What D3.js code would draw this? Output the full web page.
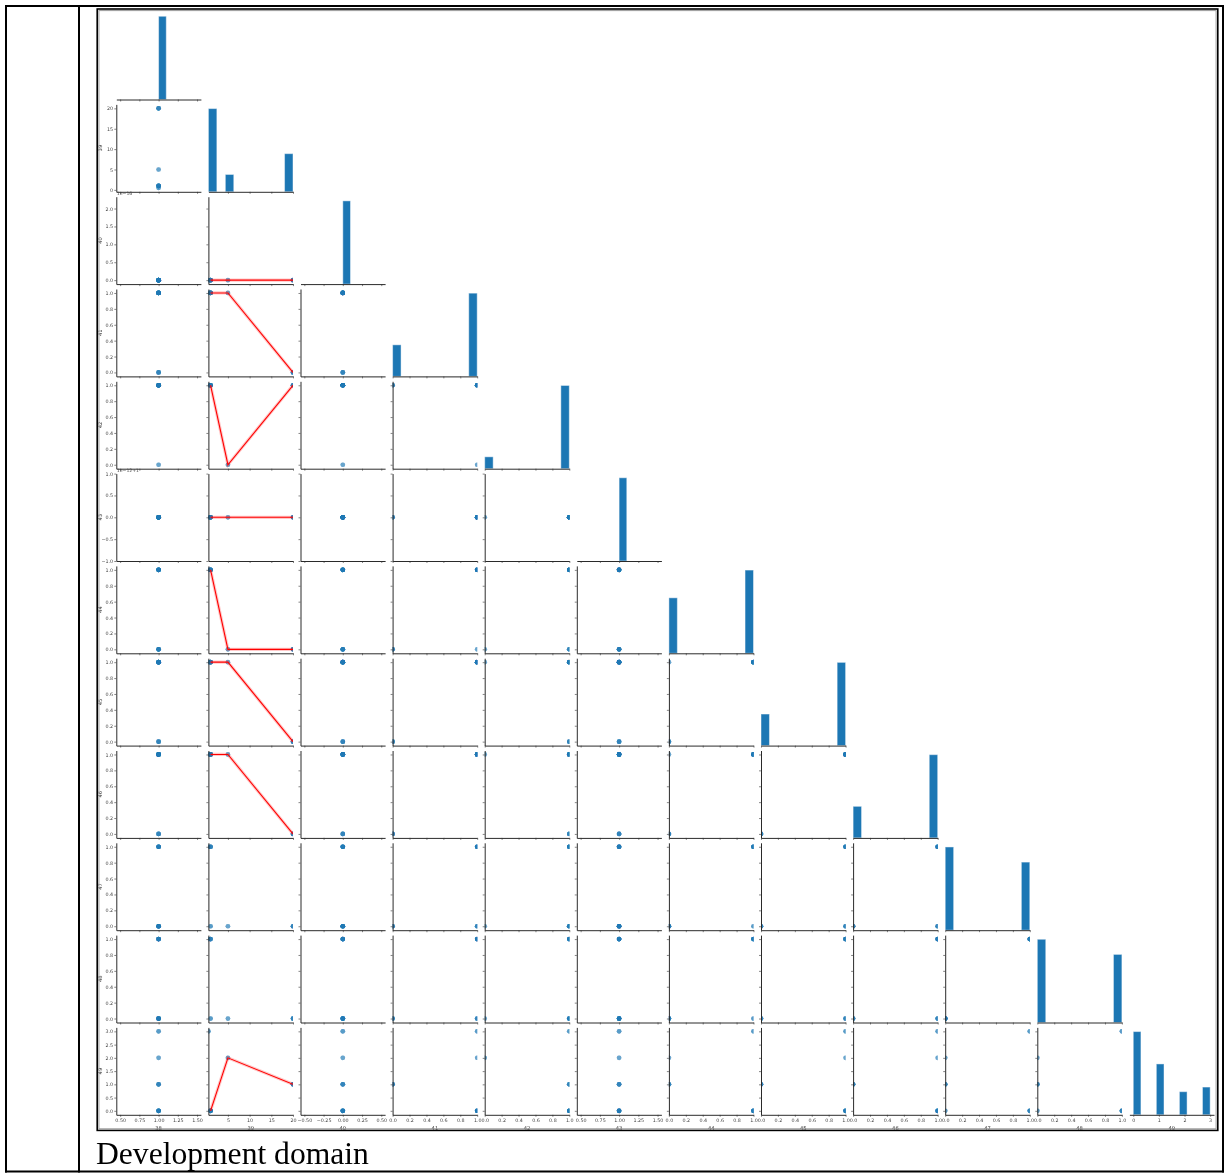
<!DOCTYPE html>
<html>
<head>
<meta charset="utf-8">
<script src="https://cdn.jsdelivr.net/npm/d3@7"></script>
<style>
  body { margin: 0; background: #fff; }
  svg { display: block; }
</style>
</head>
<body>
<svg id="page" width="1225" height="1173"></svg>
<script>
// Pair plot of development-domain items 38–49 (40 observations).
const variables = ["38", "39", "40", "41", "42", "43", "44", "45", "46", "47", "48", "49"];

// The observations fall into five groups of identical rows.
const groupSizes = [6, 12, 6, 5, 11];
const values38 = [1, 1, 1, 1, 1];
const values39 = [0.5, 1, 1, 5, 20];
const values40 = [0, 0, 0, 0, 0];
const values41 = [1, 1, 1, 1, 0];
const values42 = [1, 1, 1, 0, 1];
const values43 = [1, 1, 1, 1, 1];
const values44 = [1, 1, 1, 0, 0];
const values45 = [1, 1, 1, 1, 0];
const values46 = [1, 1, 1, 1, 0];
const values47 = [1, 1, 0, 0, 0];
const values48 = [1, 1, 0, 0, 0];
const values49 = [3, 0, 0, 2, 1];
const columns = [values38, values39, values40, values41, values42, values43,
                 values44, values45, values46, values47, values48, values49];

// Axis limits (x in data units, y in displayed units after offset/scale)
const xLimits = [[0.45, 1.55], [0.5, 20], [-0.55, 0.55], [0, 1], [0, 1], [0.45, 1.55],
                 [0, 1], [0, 1], [0, 1], [0, 1], [0, 1], [-0.15, 3.15]];
const yLimits = [null, [-0.475, 20.975], [-0.111, 2.331], [-0.05, 1.05], [-0.05, 1.05], [-1, 1],
                 [-0.05, 1.05], [-0.05, 1.05], [-0.05, 1.05], [-0.05, 1.05], [-0.05, 1.05], [-0.15, 3.15]];
const yShift = [0, 0, 0, 0, 0, 1, 0, 0, 0, 0, 0, 0];
const yUnit = [1, 1, 1e-16, 1, 1, 1e-12, 1, 1, 1, 1, 1, 1];
const offsetTexts = { 2: "1e\u221216", 5: "1e\u221212+1" };

const unitTicks = [0, 0.2, 0.4, 0.6, 0.8, 1.0];
const xTicks = [[0.5, 0.75, 1, 1.25, 1.5], [5, 10, 15, 20], [-0.5, -0.25, 0, 0.25, 0.5],
                unitTicks, unitTicks, [0.5, 0.75, 1, 1.25, 1.5],
                unitTicks, unitTicks, unitTicks, unitTicks, unitTicks, [0, 1, 2, 3]];
const xFormats = [".2f", "d", ".2f", ".1f", ".1f", ".2f", ".1f", ".1f", ".1f", ".1f", ".1f", "d"];
const yTicks = [[], [0, 5, 10, 15, 20], [0, 0.5, 1, 1.5, 2], unitTicks, unitTicks,
                [-1, -0.5, 0, 0.5, 1], unitTicks, unitTicks, unitTicks, unitTicks, unitTicks,
                [0, 0.5, 1, 1.5, 2, 2.5, 3]];
const yFormats = [".1f", "d", ".1f", ".1f", ".1f", ".1f", ".1f", ".1f", ".1f", ".1f", ".1f", ".1f"];

// Histogram binning on the diagonal
const histBinCount = 10;
const histRanges = [[0.5, 1.5], [0.5, 20], [-0.5, 0.5], [0, 1], [0, 1], [0.5, 1.5],
                    [0, 1], [0, 1], [0, 1], [0, 1], [0, 1], [0, 3]];

// Red trend lines drawn against item 39 (column 1), keyed by row
const trendX = [1, 5, 20];
const trendY = {
  2: [0, 0, 0], 3: [1, 1, 0], 4: [1, 0, 1], 5: [1, 1, 1],
  6: [1, 0, 0], 7: [1, 1, 0], 8: [1, 1, 0], 11: [0, 2, 1]
};

// Expand the groups into individual observations
const records = [];
groupSizes.forEach((n, g) => {
  for (let k = 0; k < n; k++) records.push(columns.map(c => c[g]));
});

// Layout of the grid
const left0 = 116.3, pitchX = 92.1, W = 84.6;
const top0 = 12.1, pitchY = 92.3, H = 87.4;
const blue = "#1f77b4";
const tickFont = "DejaVu Sans, sans-serif";

const svg = d3.select("#page");
svg.append("rect").attr("width", 1225).attr("height", 1173).attr("fill", "#fff");
const defs = svg.append("defs");
defs.append("filter").attr("id", "soft")
  .append("feGaussianBlur").attr("stdDeviation", 0.35);

const plot = svg.append("g").attr("filter", "url(#soft)");

function styleAxis(g) {
  g.select(".domain").attr("stroke", "#2a2a2a").attr("stroke-width", 1);
  g.selectAll(".tick line").attr("stroke", "#333").attr("stroke-width", 0.6);
  g.selectAll(".tick text").attr("fill", "#444")
    .attr("font-family", tickFont).attr("font-size", 4.8);
}

const n = variables.length;
for (let i = 0; i < n; i++) {
  for (let j = 0; j <= i; j++) {
    const x0 = left0 + j * pitchX;
    const y0 = top0 + i * pitchY;
    const xs = d3.scaleLinear().domain(xLimits[j]).range([x0, x0 + W]);
    const panel = plot.append("g");

    if (i === j) {
      // diagonal: histogram of the item
      const [lo, hi] = histRanges[j];
      const w = (hi - lo) / histBinCount;
      const counts = new Array(histBinCount).fill(0);
      records.forEach(r => {
        let k = Math.floor((r[j] - lo) / w + 1e-9);
        k = Math.max(0, Math.min(histBinCount - 1, k));
        counts[k]++;
      });
      const ys = d3.scaleLinear().domain([0, d3.max(counts) * 1.05]).range([y0 + H, y0]);
      panel.selectAll("rect.bar")
        .data(counts.map((c, k) => ({ c, k })).filter(d => d.c > 0))
        .join("rect")
        .attr("class", "bar")
        .attr("x", d => xs(lo + d.k * w))
        .attr("width", d => xs(lo + (d.k + 1) * w) - xs(lo + d.k * w))
        .attr("y", d => ys(d.c))
        .attr("height", d => ys(0) - ys(d.c))
        .attr("fill", blue)
        .attr("stroke", "rgba(255,255,255,0.45)")
        .attr("stroke-width", 1);
    } else {
      // off-diagonal: scatter of row item against column item
      const ys = d3.scaleLinear().domain(yLimits[i]).range([y0 + H, y0]);
      const clipId = `clip-${i}-${j}`;
      defs.append("clipPath").attr("id", clipId)
        .append("rect").attr("x", x0).attr("y", y0).attr("width", W).attr("height", H);
      const pts = panel.append("g").attr("clip-path", `url(#${clipId})`);
      pts.selectAll("circle")
        .data(records)
        .join("circle")
        .attr("cx", r => xs(r[j]))
        .attr("cy", r => ys((r[i] - yShift[i]) / yUnit[i]))
        .attr("r", 2.35)
        .attr("fill", blue)
        .attr("fill-opacity", 0.2);

      if (j === 1 && trendY[i]) {
        const pts2 = trendX.map((x, k) => [xs(x), ys((trendY[i][k] - yShift[i]) / yUnit[i])]);
        const line = d3.line();
        pts.append("path").attr("d", line(pts2))
          .attr("fill", "none").attr("stroke", "rgba(255,0,0,0.22)").attr("stroke-width", 3.2);
        pts.append("path").attr("d", line(pts2))
          .attr("fill", "none").attr("stroke", "#ff0000").attr("stroke-width", 1.1);
      }

      // left axis
      const yAxis = d3.axisLeft(ys)
        .tickValues(yTicks[i])
        .tickSize(2).tickSizeOuter(0).tickPadding(1.2)
        .tickFormat(j === 0 ? d3.format(yFormats[i]) : () => "");
      panel.append("g").attr("transform", `translate(${x0},0)`).call(yAxis).call(styleAxis);

      if (j === 0) {
        panel.append("text")
          .attr("transform", `translate(100,${y0 + H / 2}) rotate(-90)`)
          .attr("text-anchor", "middle").attr("dominant-baseline", "central")
          .attr("font-family", tickFont).attr("font-size", 5.2).attr("fill", "#333")
          .text(variables[i]);
        if (offsetTexts[i]) {
          panel.append("text")
            .attr("x", x0 + 0.5).attr("y", y0 - 2.8)
            .attr("dominant-baseline", "central")
            .attr("font-family", tickFont).attr("font-size", 4.6).attr("fill", "#444")
            .text(offsetTexts[i]);
        }
      }
    }

    // bottom axis (every panel)
    const xAxis = d3.axisBottom(xs)
      .tickValues(xTicks[j])
      .tickSize(2).tickSizeOuter(0).tickPadding(1.5)
      .tickFormat(i === n - 1 ? d3.format(xFormats[j]) : () => "");
    panel.append("g").attr("transform", `translate(0,${y0 + H})`).call(xAxis).call(styleAxis);

    if (i === n - 1) {
      panel.append("text")
        .attr("x", x0 + W / 2).attr("y", y0 + H + 13)
        .attr("text-anchor", "middle").attr("dominant-baseline", "central")
        .attr("font-family", tickFont).attr("font-size", 5.2).attr("fill", "#333")
        .text(variables[j]);
    }
  }
}

// Picture frame around the plot
svg.append("rect").attr("x", 97.2).attr("y", 9.0).attr("width", 1120.6).attr("height", 1121.4)
  .attr("fill", "none").attr("stroke", "#000").attr("stroke-width", 1.6);
svg.append("rect").attr("x", 98.9).attr("y", 10.6).attr("width", 1117.2).attr("height", 1118.2)
  .attr("fill", "none").attr("stroke", "#9a9a9a").attr("stroke-width", 1);

// Table cell borders
const border = svg.append("g").attr("stroke", "#000").attr("stroke-width", 2);
border.append("line").attr("x1", 5).attr("x2", 1224).attr("y1", 6).attr("y2", 6);
border.append("line").attr("x1", 5).attr("x2", 1224).attr("y1", 1171.5).attr("y2", 1171.5);
border.append("line").attr("x1", 6).attr("x2", 6).attr("y1", 5).attr("y2", 1172.5);
border.append("line").attr("x1", 79).attr("x2", 79).attr("y1", 5).attr("y2", 1172.5);
border.append("line").attr("x1", 1223).attr("x2", 1223).attr("y1", 5).attr("y2", 1172.5);

// Caption
svg.append("text")
  .attr("x", 96).attr("y", 1164)
  .attr("font-family", "Liberation Serif, Times New Roman, serif")
  .attr("font-size", 31.6).attr("fill", "#000")
  .text("Development domain");
</script>
</body>
</html>
